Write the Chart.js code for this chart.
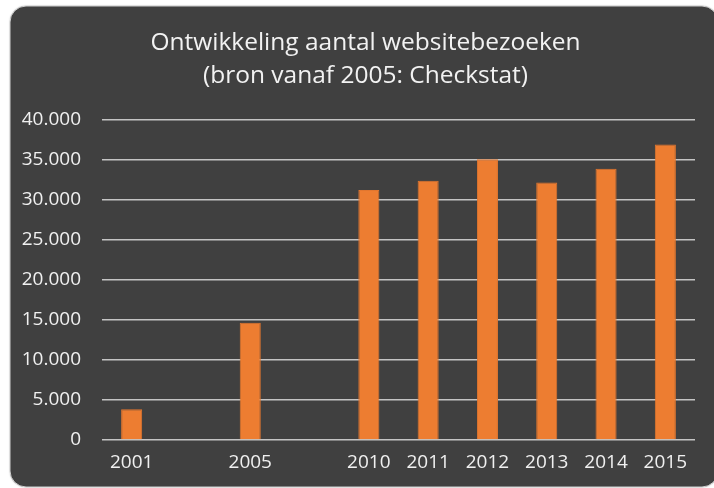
<!DOCTYPE html>
<html>
<head>
<meta charset="utf-8">
<script src="https://cdn.jsdelivr.net/npm/chart.js@4/dist/chart.umd.min.js"></script>
<style>
html,body{margin:0;padding:0;background:#ffffff;}
#wrap{width:714px;height:488px;position:relative;}
</style>
</head>
<body>
<div id="wrap"><canvas id="c" width="714" height="488"></canvas></div>
<script>
const titleLines = ['Ontwikkeling aantal websitebezoeken', '(bron vanaf 2005: Checkstat)'];
const categories = ['2001', '', '2005', '', '2010', '2011', '2012', '2013', '2014', '2015'];
const visits = [3850, null, 14650, null, 31250, 32400, 35100, 32200, 33900, 36950];
const yTicks = [0, 5000, 10000, 15000, 20000, 25000, 30000, 35000, 40000];

const bgPlugin = {
  id: 'bg',
  afterLayout(chart) {
    // centre the title over the dark panel rather than the canvas
    const t = chart.titleBlock;
    if (t) { t.left += 26; }
  },
  beforeDraw(chart) {
    const ctx = chart.ctx;
    ctx.save();
    ctx.fillStyle = '#ffffff';
    ctx.fillRect(0, 0, chart.width, chart.height);
    const x = 10, y = 6, w = 708, h = 481, r = 16;
    ctx.beginPath();
    ctx.roundRect(x, y, w, h, r);
    ctx.fillStyle = '#404040';
    ctx.shadowColor = 'rgba(0,0,0,0.25)';
    ctx.shadowBlur = 2;
    ctx.fill();
    ctx.shadowColor = 'transparent';
    ctx.lineWidth = 1;
    ctx.strokeStyle = '#d0d0d0';
    ctx.stroke();
    ctx.restore();
  }
};

const fmt = v => v === 0 ? '0' : v.toLocaleString('nl-NL');

new Chart(document.getElementById('c'), {
  type: 'bar',
  data: {
    labels: categories,
    datasets: [{
      data: visits,
      backgroundColor: '#ED7D31',
      borderColor: '#E2762E',
      borderWidth: 1,
      categoryPercentage: 1,
      barPercentage: 0.355
    }]
  },
  options: {
    responsive: false,
    animation: false,
    devicePixelRatio: 1,
    layout: { padding: { left: 10, right: 19, top: 0, bottom: 0 } },
    plugins: {
      legend: { display: false },
      tooltip: { enabled: false },
      title: {
        display: true,
        text: titleLines,
        color: '#f2f2f2',
        font: { family: 'Open Sans', size: 24.5, weight: 'normal', lineHeight: 1.347 },
        padding: { top: 27, bottom: 27 }
      }
    },
    scales: {
      x: {
        grid: { display: false, drawTicks: false },
        border: { display: false },
        ticks: {
          color: '#f0f0f0',
          font: { family: 'Open Sans', size: 19 },
          padding: 11,
          maxRotation: 0,
          autoSkip: false
        },
        afterFit(s) { s.height = 48; }
      },
      y: {
        min: 0,
        max: 40000,
        afterBuildTicks(s) { s.ticks = yTicks.map(v => ({ value: v })); },
        grid: { color: '#c4c4c4', lineWidth: 1.5, drawTicks: false },
        border: { display: false },
        ticks: {
          color: '#f0f0f0',
          font: { family: 'Open Sans', size: 19 },
          padding: 21,
          callback: v => fmt(v)
        },
        afterFit(s) { s.width = 92; }
      }
    }
  },
  plugins: [bgPlugin]
});
</script>
</body>
</html>
